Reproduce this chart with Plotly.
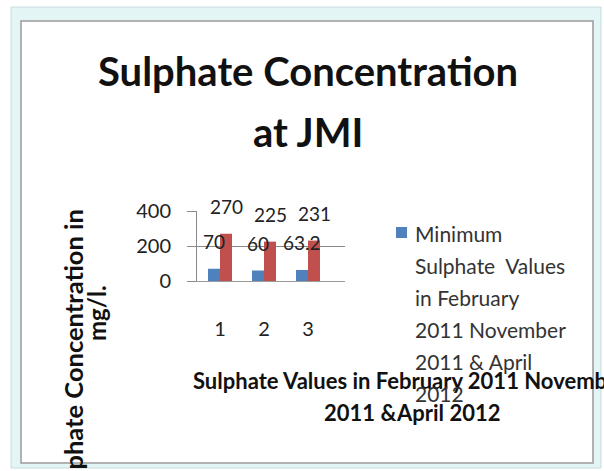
import plotly.graph_objects as go

# ---- data ----
categories = [1, 2, 3]
min_values = [70, 60, 63.2]
max_values = [270, 225, 231]
min_labels = ["70", "60", "63.2"]
max_labels = ["270", "225", "231"]
y_ticks = [0, 200, 400]

title_lines = ["Sulphate Concentration", "at JMI"]
legend_lines = ["Minimum", "Sulphate  Values", "in February", "2011 November", "2011 & April", "2012"]
xtitle_lines = ["Sulphate Values in February 2011 November", "2011 &April 2012"]
ytitle_lines = ["Sulphate Concentration in", "mg/l."]

BLUE = "#4f81bd"
RED = "#c0504d"
FONT = "Lato"

W, H = 604, 471
L, R, T, B = 197, 345, 211, 281  # plot area in pixels
X0 = 1 - (220 - L) / 44.0
X1 = X0 + (R - L) / 44.0


def px(x):
    return (x - L) / (R - L)


def py(y):
    return (B - y) / (B - T)


fig = go.Figure()
fig.add_trace(go.Bar(x=categories, y=min_values, name=" ".join(legend_lines),
                     marker=dict(color=BLUE, line=dict(width=0)), showlegend=False))
fig.add_trace(go.Bar(x=categories, y=max_values, name="Maximum",
                     marker=dict(color=RED, line=dict(width=0)), showlegend=False))

ann = []
bw = 12 / 44.0
for c, v, t in zip(categories, min_values, min_labels):
    ann.append(dict(x=c - bw / 2, y=v, xref="x", yref="y", text=t, showarrow=False,
                    yshift=27, font=dict(family=FONT, size=19, color="#222")))
for c, v, t in zip(categories, max_values, max_labels):
    ann.append(dict(x=c + bw / 2, y=v, xref="x", yref="y", text=t, showarrow=False,
                    yshift=27, font=dict(family=FONT, size=19, color="#222")))

# titles
for txt, yy in zip(title_lines, [71, 132]):
    ann.append(dict(x=px(308), y=py(yy), xref="paper", yref="paper", text="<b>%s</b>" % txt,
                    showarrow=False, xanchor="center", yanchor="middle",
                    font=dict(family=FONT, size=40, color="#111")))
# x title
for txt, xx, yy in zip(xtitle_lines, [410, 412], [380, 412]):
    ann.append(dict(x=px(xx), y=py(yy), xref="paper", yref="paper", text="<b>%s</b>" % txt,
                    showarrow=False, xanchor="center", yanchor="middle",
                    font=dict(family=FONT, size=22, color="#111")))
# y title
for txt, xx, yy, fs in zip(ytitle_lines, [73, 96], [357, 313], [25.5, 24]):
    ann.append(dict(x=px(xx), y=py(yy), xref="paper", yref="paper", text="<b>%s</b>" % txt,
                    showarrow=False, xanchor="center", yanchor="middle", textangle=-90,
                    font=dict(family=FONT, size=fs, color="#111")))
# legend (manual, wrapped like the original)
for i, txt in enumerate(legend_lines):
    ann.append(dict(x=px(413), y=py(233 + i * 32), xref="paper", yref="paper", text=txt,
                    showarrow=False, xanchor="left", yanchor="middle",
                    font=dict(family=FONT, size=21, color="#333")))

shapes = [
    dict(type="rect", xref="paper", yref="paper", x0=px(11), x1=px(601), y0=py(7), y1=py(468),
         fillcolor="#e4f5f6", line=dict(color="#c8dcdc", width=1), layer="below"),
    dict(type="rect", xref="paper", yref="paper", x0=px(21), x1=px(593), y0=py(21), y1=py(463),
         fillcolor="white", line=dict(color="#9a9a9a", width=1.5), layer="below"),
    dict(type="rect", xref="paper", yref="paper", x0=px(396), x1=px(407), y0=py(238), y1=py(227),
         fillcolor=BLUE, line=dict(width=0)),
]

fig.update_layout(
    width=W, height=H,
    margin=dict(l=L, r=W - R, t=T, b=H - B, pad=0),
    paper_bgcolor="white", plot_bgcolor="rgba(0,0,0,0)",
    barmode="group", bargap=1 - 2 * bw, bargroupgap=0,
    annotations=ann, shapes=shapes,
    font=dict(family=FONT, size=18, color="#222"),
)
fig.update_xaxes(range=[X0, X1], tickvals=categories, ticktext=[str(c) for c in categories],
                 showgrid=False, showline=True, linecolor="#9a9a9a", zeroline=False,
                 ticks="", ticklabelstandoff=30, tickfont=dict(family=FONT, size=20, color="#222"))
fig.update_yaxes(range=[0, 400], tickvals=y_ticks, showgrid=True, gridcolor="#8a8a8a",
                 showline=True, linecolor="#8a8a8a", zeroline=False, ticks="outside",
                 ticklen=9, tickcolor="#8a8a8a", ticklabelstandoff=12,
                 tickfont=dict(family=FONT, size=20, color="#222"))

fig.write_html("out.html", config={"displayModeBar": False},
               post_script="document.body.style.margin='0';")
